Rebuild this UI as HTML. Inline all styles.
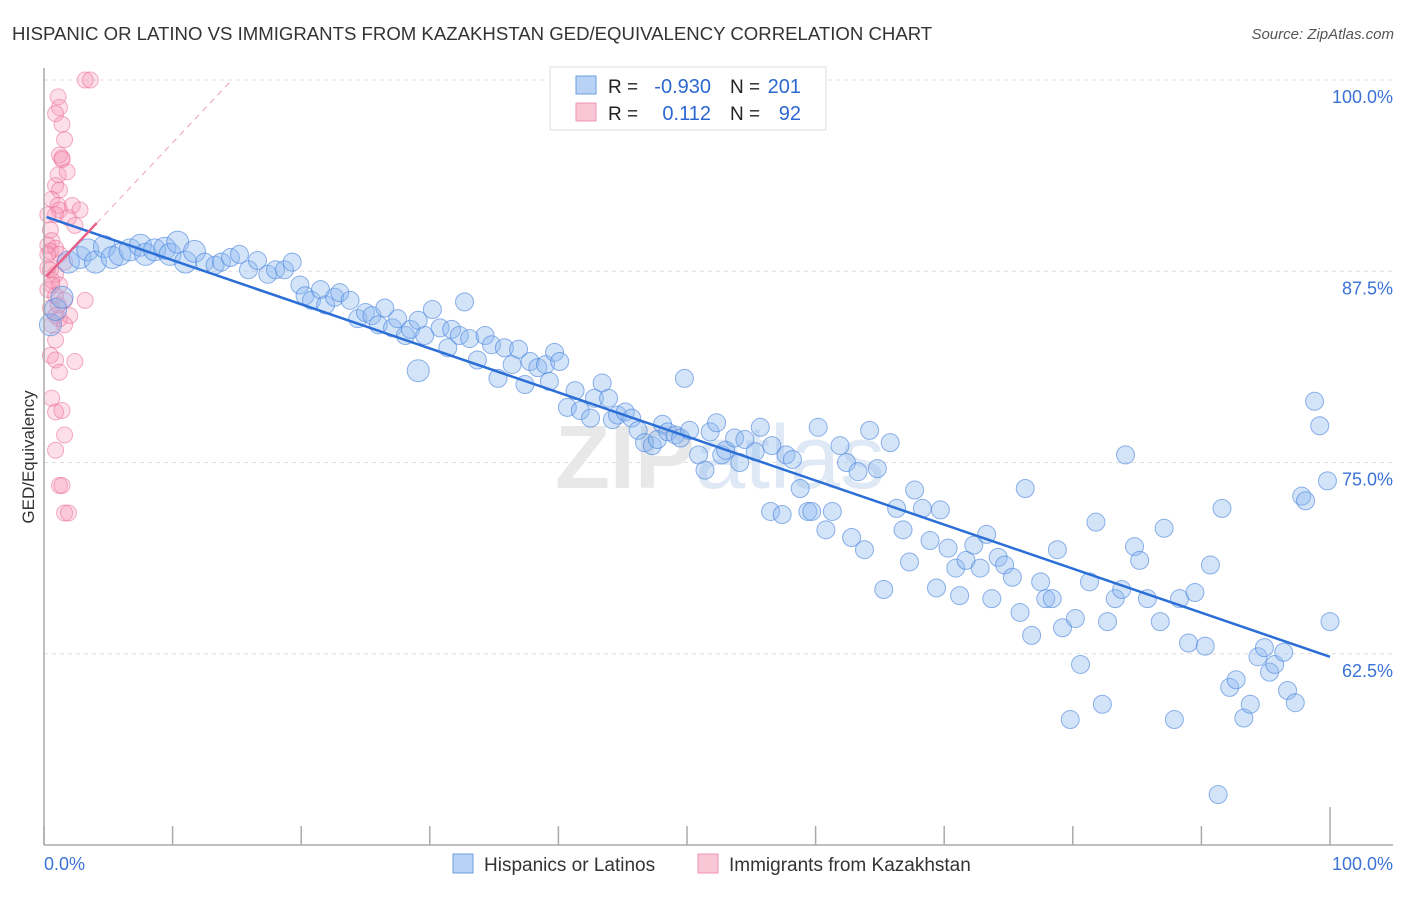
<!DOCTYPE html>
<html><head><meta charset="utf-8"><style>
body{margin:0;background:#fff;font-family:"Liberation Sans",sans-serif;}
svg text{font-family:"Liberation Sans",sans-serif;}
</style></head><body>
<svg id="chart" width="1406" height="892" xmlns="http://www.w3.org/2000/svg">
<text x="12" y="40" font-size="18.6" fill="#333">HISPANIC OR LATINO VS IMMIGRANTS FROM KAZAKHSTAN GED/EQUIVALENCY CORRELATION CHART</text>
<text x="1394" y="39" font-size="15" fill="#555" font-style="italic" text-anchor="end">Source: ZipAtlas.com</text>
<g id="grid"></g>
<text x="720" y="488" font-size="90" fill="#e8e8e8" text-anchor="middle" font-weight="bold">ZIP<tspan fill="#dfe8f5" font-weight="normal">atlas</tspan></text>
<g id="pink"></g><g id="blue"></g><g id="lines"></g><g id="axes"></g>
<text transform="translate(34,457) rotate(-90)" font-size="17" fill="#333" text-anchor="middle">GED/Equivalency</text>
<g>
<rect x="550" y="67" width="276" height="63" fill="#fff" stroke="#ddd"/>
<rect x="576" y="76" width="20" height="18" fill="#b8d2f5" stroke="#6b9ee0"/>
<rect x="576" y="103" width="20" height="18" fill="#f9c6d5" stroke="#ee94b0"/>
<text x="608" y="93" font-size="19" fill="#222">R =</text>
<text x="711" y="93" font-size="20" fill="#2c68d0" text-anchor="end">-0.930</text>
<text x="730" y="93" font-size="19" fill="#222">N =</text>
<text x="801" y="93" font-size="20" fill="#2c68d0" text-anchor="end">201</text>
<text x="608" y="120" font-size="19" fill="#222">R =</text>
<text x="711" y="120" font-size="20" fill="#2c68d0" text-anchor="end">0.112</text>
<text x="730" y="120" font-size="19" fill="#222">N =</text>
<text x="801" y="120" font-size="20" fill="#2c68d0" text-anchor="end">92</text>
</g>
<g>
<rect x="453" y="854" width="20" height="19" fill="#b8d2f5" stroke="#6b9ee0"/>
<text x="484" y="871" font-size="19" fill="#333">Hispanics or Latinos</text>
<rect x="698" y="854" width="20" height="19" fill="#f9c6d5" stroke="#ee94b0"/>
<text x="729" y="871" font-size="19" fill="#333">Immigrants from Kazakhstan</text>
</g>
</svg>
<script>
const yTicks=[100,87.5,75,62.5];
const yTickLabels=["100.0%","87.5%","75.0%","62.5%"];
const xTicks=[0,10,20,30,40,50,60,70,80,90,100];
const blueX=[0.5,0.9,1.4,1.9,2.8,3.4,4.0,4.7,5.3,5.9,6.7,7.5,7.9,8.6,9.4,9.8,10.4,11.0,11.7,12.5,13.3,13.8,14.5,15.2,15.9,16.6,17.4,18.0,18.7,19.3,19.9,20.3,20.8,21.5,21.9,22.6,23.0,23.8,24.4,25.0,25.5,26.0,26.5,27.1,27.5,28.1,28.5,29.1,29.6,30.2,30.8,31.4,31.7,32.3,32.7,33.1,33.7,34.3,34.8,35.3,35.8,36.4,36.9,37.4,37.8,38.4,39.0,39.3,39.7,40.1,40.7,41.3,41.7,42.5,42.8,43.4,43.9,44.2,44.6,45.2,45.7,46.2,46.7,47.3,47.7,48.1,48.5,49.1,49.5,49.8,50.2,50.9,51.4,51.8,52.3,52.7,53.0,53.7,54.1,54.5,55.3,55.7,56.5,56.6,57.4,57.7,58.2,58.8,59.4,59.7,60.2,60.8,61.3,61.9,62.4,62.8,63.3,63.8,64.2,64.8,65.3,65.8,66.3,66.8,67.3,67.7,68.3,68.9,69.4,69.7,70.3,70.9,71.2,71.7,72.3,72.8,73.3,73.7,74.2,74.7,75.3,75.9,76.3,76.8,77.5,77.9,78.4,78.8,79.2,79.8,80.2,80.6,81.3,81.8,82.3,82.7,83.3,83.8,84.1,84.8,85.2,85.8,86.8,87.1,87.9,88.3,89.0,89.5,90.3,90.7,91.3,91.6,92.2,92.7,93.3,93.8,94.4,94.9,95.3,95.7,96.4,96.7,97.3,97.8,98.1,98.8,99.2,99.8,100.0,29.1];
const blueY=[84.0,85.0,85.8,88.1,88.4,88.9,88.1,89.1,88.4,88.6,88.9,89.2,88.6,88.9,89.0,88.6,89.4,88.1,88.8,88.1,87.9,88.1,88.4,88.6,87.6,88.2,87.3,87.6,87.6,88.1,86.6,85.9,85.6,86.3,85.3,85.8,86.1,85.6,84.4,84.8,84.6,84.0,85.1,83.8,84.4,83.3,83.7,84.3,83.3,85.0,83.8,82.5,83.7,83.3,85.5,83.1,81.7,83.3,82.7,80.5,82.5,81.4,82.4,80.1,81.6,81.2,81.4,80.3,82.2,81.6,78.6,79.7,78.4,77.9,79.2,80.2,79.2,77.8,78.1,78.3,77.9,77.1,76.3,76.1,76.5,77.5,77.0,76.8,76.6,80.5,77.1,75.5,74.5,77.0,77.6,75.5,75.8,76.6,75.0,76.5,75.7,77.3,71.8,76.1,71.6,75.5,75.2,73.3,71.8,71.8,77.3,70.6,71.8,76.1,75.0,70.1,74.4,69.3,77.1,74.6,66.7,76.3,72.0,70.6,68.5,73.2,72.0,69.9,66.8,71.9,69.4,68.1,66.3,68.6,69.6,68.1,70.3,66.1,68.8,68.3,67.5,65.2,73.3,63.7,67.2,66.1,66.1,69.3,64.2,58.2,64.8,61.8,67.2,71.1,59.2,64.6,66.1,66.7,75.5,69.5,68.6,66.1,64.6,70.7,58.2,66.1,63.2,66.5,63.0,68.3,53.3,72.0,60.3,60.8,58.3,59.2,62.3,62.9,61.3,61.8,62.6,60.1,59.3,72.8,72.5,79.0,77.4,73.8,64.6,81.0];
const pinkX=[3.2,3.6,1.1,1.2,0.9,1.4,1.6,1.2,1.4,1.1,1.8,0.9,1.2,0.6,1.1,1.2,2.2,2.8,0.9,1.9,2.4,0.5,0.6,0.3,0.9,0.5,1.2,1.6,0.3,0.9,0.6,1.2,0.3,0.9,1.6,3.2,0.5,0.9,1.2,2.0,0.6,1.6,0.9,0.5,0.9,1.2,2.4,0.6,0.9,1.4,1.6,0.9,1.2,1.4,1.6,1.9,0.3,0.3,0.5,0.6,1.1,1.4];
const pinkY=[100,100,98.9,98.2,97.8,97.1,96.1,95.1,94.8,93.8,94.0,93.1,92.8,92.2,91.8,91.5,91.8,91.5,91.2,91.0,90.5,90.2,89.5,89.2,89.0,88.8,88.6,88.1,87.7,87.3,86.9,86.6,86.3,85.9,85.6,85.6,85.1,84.6,84.4,84.6,84.0,84.0,83.0,82.0,81.7,80.9,81.6,79.2,78.3,78.4,76.8,75.8,73.5,73.5,71.7,71.7,91.2,88.6,87.6,86.6,85.3,94.9];
const blueTrend=[91.1,-0.288];   // intercept, slope
const pinkTrend=[87.0,0.89];
const pinkTrendSolidEnd=4.1, pinkTrendDashEnd=14.6;
const NS="http://www.w3.org/2000/svg";
function sx(p){return 44+p*12.86;}
function sy(v){return 80+(100-v)*15.3;}
function mk(t,a,parent){const e=document.createElementNS(NS,t);for(const k in a)e.setAttribute(k,a[k]);document.getElementById(parent).appendChild(e);return e;}
yTicks.forEach((t,i)=>{
  const l=mk('line',{x1:44,x2:1393,y1:sy(t),y2:sy(t),stroke:'#ddd','stroke-dasharray':'4,4'},'grid');
  
  
  const tx=mk('text',{x:1393,y:sy(t)+23,'font-size':18,fill:'#3b72d6','text-anchor':'end'},'grid');
  tx.textContent=yTickLabels[i];
  
  
});
const ax=mk('line',{x1:44,x2:44,y1:68,y2:845,stroke:'#aaa','stroke-width':1.5},'axes');


const bx=mk('line',{x1:44,x2:1393,y1:845,y2:845,stroke:'#aaa','stroke-width':1.5},'axes');


xTicks.forEach((t,i)=>{
  const tk=mk('line',{x1:sx(t),x2:sx(t),y1:(i==xTicks.length-1?807:826),y2:845,stroke:'#aaa','stroke-width':1.5},'axes');
  
  
});
const xl0=mk('text',{x:44,y:870,'font-size':18,fill:'#3b72d6'},'axes');xl0.textContent='0.0%';


const xl1=mk('text',{x:1393,y:870,'font-size':18,fill:'#3b72d6','text-anchor':'end'},'axes');xl1.textContent='100.0%';


pinkX.forEach((p,i)=>{
  const c=mk('circle',{cx:sx(p),cy:sy(pinkY[i]),r:8,fill:'rgba(245,150,180,0.3)',stroke:'rgba(235,110,150,0.55)','stroke-width':1},'pink');
  
  
});
blueX.forEach((p,i)=>{
  const r=(p<12?11:(i==blueX.length-1?11:9));
  const c=mk('circle',{cx:sx(p),cy:sy(blueY[i]),r:r,fill:'rgba(140,185,240,0.38)',stroke:'rgba(70,130,220,0.6)','stroke-width':1},'blue');
  
  
});
const bl=mk('line',{x1:sx(0.2),y1:sy(blueTrend[0]+blueTrend[1]*0.2),x2:sx(100),y2:sy(blueTrend[0]+blueTrend[1]*100),stroke:'#2b6fd6','stroke-width':2.5},'lines');


const pd=mk('line',{x1:sx(pinkTrendSolidEnd),y1:sy(pinkTrend[0]+pinkTrend[1]*pinkTrendSolidEnd),x2:sx(pinkTrendDashEnd),y2:sy(pinkTrend[0]+pinkTrend[1]*pinkTrendDashEnd),stroke:'#f0a0b8','stroke-width':1,'stroke-dasharray':'6,5'},'lines');


const pl=mk('line',{x1:sx(0.2),y1:sy(pinkTrend[0]+pinkTrend[1]*0.2),x2:sx(pinkTrendSolidEnd),y2:sy(pinkTrend[0]+pinkTrend[1]*pinkTrendSolidEnd),stroke:'#e8608a','stroke-width':2.5},'lines');


</script>
</body></html>
